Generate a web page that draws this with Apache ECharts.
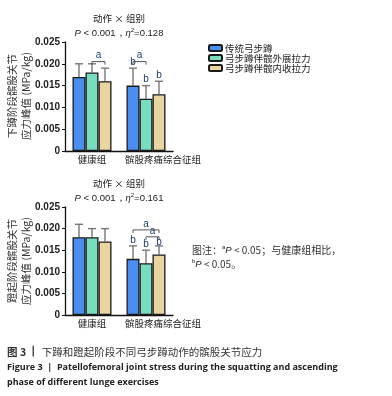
<!DOCTYPE html>
<html>
<head>
<meta charset="utf-8">
<script src="https://cdn.jsdelivr.net/npm/echarts@6/dist/echarts.min.js"></script>
<style>
  html, body { margin: 0; padding: 0; background: #fff; }
  #chart { width: 392px; height: 396px; }
</style>
</head>
<body>
<div id="chart"></div>
<script>
// categories and series
const groups = ['健康组', '髌股疼痛综合征组'];
const seriesNames = ['传统弓步蹲', '弓步蹲伴髋外展拉力', '弓步蹲伴髋内收拉力'];
const colors = ['#4a8ef2', '#78dcbf', '#e8d5a0'];
const yTicks = [0, 0.005, 0.010, 0.015, 0.020, 0.025];

// squatting phase (top): means and mean + SD
const squatMean = [[0.017, 0.015], [0.018, 0.012], [0.016, 0.013]];
const squatUpper = [[0.020, 0.019], [0.020, 0.015], [0.019, 0.016]];
// ascending phase (bottom)
const riseMean = [[0.018, 0.013], [0.018, 0.012], [0.017, 0.014]];
const riseUpper = [[0.021, 0.016], [0.020, 0.015], [0.020, 0.016]];

// significance marks: [group, fromSeries, toSeries, level]
const squatBrackets = [[0, 1, 2, 0.0205], [1, 0, 1, 0.0205]];
const riseBrackets = [[1, 0, 2, 0.0197], [1, 1, 2, 0.0181]];
// "b" letters: [group, series, level]
const squatLetters = [[1, 0, 0.0191], [1, 1, 0.0153], [1, 2, 0.0163]];
const riseLetters = [[1, 0, 0.0162], [1, 1, 0.0152], [1, 2, 0.0157]];

const BAR_W = 13;
const chart = echarts.init(document.getElementById('chart'));

function grids() {
  return [
    { left: 65, top: 42, width: 108, height: 109 },
    { left: 65, top: 207, width: 108, height: 108 }
  ];
}

function xAxis(i) {
  return {
    type: 'category', gridIndex: i,
    data: [groups[0], { value: groups[1], textStyle: { padding: [0, 0, 0, 34] } }],
    axisLine: { lineStyle: { color: '#111', width: 1.3 } },
    axisTick: { alignWithLabel: true, length: 3, lineStyle: { color: '#111' } },
    axisLabel: { interval: 0, color: '#222', fontSize: 9.5, margin: 4, fontFamily: 'Noto Sans CJK SC' }
  };
}

function yAxis(i) {
  return {
    type: 'value', gridIndex: i, min: yTicks[0], max: yTicks[yTicks.length - 1], interval: 0.005,
    splitLine: { show: false },
    axisLine: { show: true, lineStyle: { color: '#111', width: 1.3 } },
    axisTick: { show: true, length: 3, lineStyle: { color: '#111' } },
    axisLabel: {
      color: '#222', fontSize: 10, margin: 5, fontWeight: 'bold',
      fontFamily: 'Liberation Sans',
      formatter: v => v === 0 ? '0' : v.toFixed(3)
    }
  };
}

function barSeries(means, i) {
  return means.map((vals, s) => ({
    name: seriesNames[s], type: 'bar', xAxisIndex: i, yAxisIndex: i,
    barWidth: BAR_W, barGap: '0%', data: vals,
    itemStyle: { color: colors[s], borderColor: '#1a1a1a', borderWidth: 1.3 }
  }));
}

function errorSeries(means, uppers, i) {
  const data = [];
  means.forEach((vals, s) => vals.forEach((v, g) => data.push([g, v, uppers[s][g], s])));
  return {
    type: 'custom', xAxisIndex: i, yAxisIndex: i, z: 1,
    data: data,
    renderItem: (params, api) => {
      const base = api.coord([api.value(0), api.value(1)]);
      const top = api.coord([api.value(0), api.value(2)]);
      const x = base[0] + (api.value(3) - 1) * BAR_W;
      const style = { stroke: '#777', lineWidth: 1.4 };
      return {
        type: 'group', children: [
          { type: 'line', shape: { x1: x, y1: base[1], x2: x, y2: top[1] }, style },
          { type: 'line', shape: { x1: x - 4, y1: top[1], x2: x + 4, y2: top[1] }, style }
        ]
      };
    }
  };
}

function markSeries(brackets, letters, i) {
  const data = brackets.map(b => ['a', b[0], b[1], b[2], b[3]])
    .concat(letters.map(l => ['b', l[0], l[1], l[1], l[2]]));
  return {
    type: 'custom', xAxisIndex: i, yAxisIndex: i, z: 5,
    data: data.map((d, k) => [d[1], d[4], d[2], d[3], k]),
    renderItem: (params, api) => {
      const d = data[params.dataIndex];
      const p = api.coord([api.value(0), api.value(1)]);
      const x1 = p[0] + (api.value(2) - 1) * BAR_W;
      const x2 = p[0] + (api.value(3) - 1) * BAR_W;
      const txt = { fill: '#1f3a6e', fontSize: 10, fontFamily: 'Liberation Sans', align: 'center', verticalAlign: 'bottom' };
      if (d[0] === 'b') {
        return { type: 'text', x: x1, y: p[1], style: Object.assign({ text: 'b' }, txt) };
      }
      const ls = { stroke: '#555', lineWidth: 1 };
      return {
        type: 'group', children: [
          { type: 'polyline', shape: { points: [[x1, p[1] + 3], [x1, p[1]], [x2, p[1]], [x2, p[1] + 3]] }, style: Object.assign({ fill: null }, ls) },
          { type: 'text', x: (x1 + x2) / 2, y: p[1] - 1, style: Object.assign({ text: 'a' }, txt) }
        ]
      };
    }
  };
}

function vText(text, x, y) {
  return {
    type: 'text', x: x, y: y, rotation: Math.PI / 2,
    style: { text: text, fill: '#333', fontSize: 10.5, fontFamily: 'Noto Sans CJK SC', align: 'center', verticalAlign: 'middle' }
  };
}

function hText(text, x, y, opt) {
  return {
    type: 'text', x: x, y: y,
    style: Object.assign({ text: text, fill: '#222', fontSize: 9.5, fontFamily: 'Noto Sans CJK SC', align: 'center', verticalAlign: 'middle' }, opt || {})
  };
}

const supStyle = { rich: {
  i: { fontStyle: 'italic', fontSize: 9.5, fontFamily: 'Liberation Sans', fill: '#222' },
  s: { fontSize: 6, verticalAlign: 'top', fill: '#222', padding: [0, 0, 5, 0] },
  n: { fontSize: 9.5, fontFamily: 'Liberation Sans' }
} };

chart.setOption({
  animation: false,
  grid: grids(),
  xAxis: [xAxis(0), xAxis(1)],
  yAxis: [yAxis(0), yAxis(1)],
  legend: {
    data: seriesNames, left: 203, top: 38, orient: 'vertical',
    itemWidth: 13, itemHeight: 6, itemGap: 0,
    textStyle: { fontSize: 9.5, lineHeight: 10, color: '#222', fontFamily: 'Noto Sans CJK SC', padding: [0, 0, 0, -2] }
  },
  series: [
    ...barSeries(squatMean, 0), errorSeries(squatMean, squatUpper, 0), markSeries(squatBrackets, squatLetters, 0),
    ...barSeries(riseMean, 1), errorSeries(riseMean, riseUpper, 1), markSeries(riseBrackets, riseLetters, 1)
  ],
  graphic: [
    hText('动作 × 组别', 119, 18),
    { type: 'text', x: 119, y: 33, style: Object.assign({ text: '{i|P} < 0.001，{i|η}{s|2}=0.128', fill: '#222', fontSize: 9.5, fontFamily: 'Liberation Sans', align: 'center', verticalAlign: 'middle' }, supStyle) },
    hText('动作 × 组别', 119, 183),
    { type: 'text', x: 119, y: 198, style: Object.assign({ text: '{i|P} < 0.001，{i|η}{s|2}=0.161', fill: '#222', fontSize: 9.5, fontFamily: 'Liberation Sans', align: 'center', verticalAlign: 'middle' }, supStyle) },
    vText('下蹲阶段髌股关节', 12, 96),
    vText('应力峰值 (MPa/kg)', 26, 96),
    vText('蹬起阶段髌股关节', 12, 261),
    vText('应力峰值 (MPa/kg)', 26, 261),
    { type: 'text', x: 192, y: 250, style: { text: '图注：{s|a}{i|P} < 0.05；与健康组相比，', fill: '#333', fontSize: 10, fontFamily: 'Noto Sans CJK SC', verticalAlign: 'middle', rich: supStyle.rich } },
    { type: 'text', x: 192, y: 264, style: { text: '{s|b}{i|P} < 0.05。', fill: '#333', fontSize: 10, fontFamily: 'Noto Sans CJK SC', verticalAlign: 'middle', rich: supStyle.rich } },
    { type: 'text', x: 7, y: 352, style: { text: '{b|图 3} {bar|丨} 下蹲和蹬起阶段不同弓步蹲动作的髌股关节应力', fill: '#333', fontSize: 10.5, fontFamily: 'Noto Sans CJK SC', verticalAlign: 'middle', rich: { b: { fontWeight: 'bold', fontSize: 10.5, fontFamily: 'Noto Sans CJK SC' }, bar: { fontSize: 10.5, fontWeight: 'bold' } } } },
    { type: 'text', x: 7, y: 367, style: { text: 'Figure 3  |  Patellofemoral joint stress during the squatting and ascending', fill: '#222', fontSize: 9, fontWeight: 'bold', fontFamily: 'Open Sans', verticalAlign: 'middle' } },
    { type: 'text', x: 7, y: 382, style: { text: 'phase of different lunge exercises', fill: '#222', fontSize: 9, fontWeight: 'bold', fontFamily: 'Open Sans', verticalAlign: 'middle' } }
  ]
});
</script>
</body>
</html>
